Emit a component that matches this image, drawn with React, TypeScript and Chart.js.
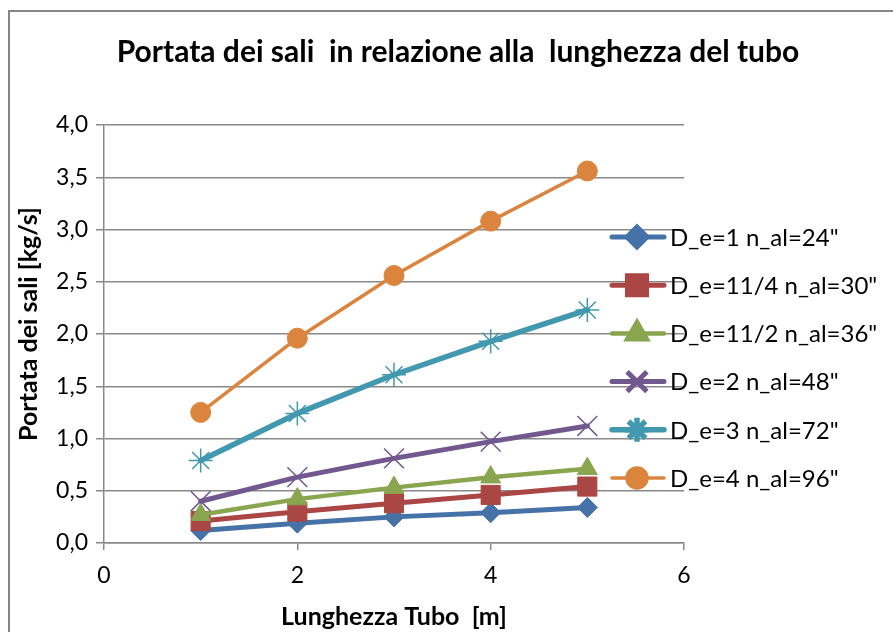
import React, { useEffect, useRef } from 'react';
import { Chart, registerables } from 'chart.js';
import { drawPoint } from 'chart.js/helpers';

Chart.register(...registerables);

// ---- data ----
const tubeLengths = [1, 2, 3, 4, 5];
const seriesNames = [
  'D_e=1 n_al=24"',
  'D_e=11/4 n_al=30"',
  'D_e=11/2 n_al=36"',
  'D_e=2 n_al=48"',
  'D_e=3 n_al=72"',
  'D_e=4 n_al=96"',
];
const de1 = [0.12, 0.19, 0.25, 0.29, 0.34];
const de114 = [0.21, 0.30, 0.38, 0.46, 0.54];
const de112 = [0.27, 0.42, 0.53, 0.63, 0.71];
const de2 = [0.40, 0.63, 0.81, 0.97, 1.12];
const de3 = [0.79, 1.24, 1.61, 1.93, 2.23];
const de4 = [1.25, 1.96, 2.56, 3.08, 3.56];
const seriesValues = [de1, de114, de112, de2, de3, de4];

const chartTitle = 'Portata dei sali  in relazione alla  lunghezza del tubo';
const xTitle = 'Lunghezza Tubo  [m]';
const yTitle = 'Portata dei sali [kg/s]';

// ---- styles ----
const colors = ['#4572A7', '#AA4643', '#89A54E', '#71588F', '#4198AF', '#DB843D'];
const pointStyles = ['rectRot', 'rect', 'triangle', 'crossRot', 'star', 'circle'];
const pointRadii = [10, 13.5, 11.5, 14, 12, 10];
const pointBorders = [1, 1, 1, 1.5, 1.5, 1];
const lineWidths = [5, 5, 4.5, 5, 5.5, 3.5];

const FONT = 'Lato, "Liberation Sans", sans-serif';
const W = 893;
const H = 632;
const GRID = '#898989';

const decorPlugin = {
  id: 'decor',
  beforeDraw(chart: any) {
    const ctx = chart.ctx;
    ctx.save();
    ctx.fillStyle = '#ffffff';
    ctx.fillRect(0, 0, W, H);
    ctx.strokeStyle = '#868686';
    ctx.lineWidth = 2;
    ctx.strokeRect(9, 11, W + 20, H + 20);
    ctx.restore();
  },
  afterDraw(chart: any) {
    const ctx = chart.ctx;
    ctx.save();
    // title
    ctx.fillStyle = '#000';
    ctx.font = `bold 30px ${FONT}`;
    ctx.textAlign = 'center';
    ctx.textBaseline = 'middle';
    ctx.fillText(chartTitle, 458, 52);
    // y axis title
    ctx.save();
    ctx.translate(29, 324);
    ctx.rotate(-Math.PI / 2);
    ctx.font = `bold 25px ${FONT}`;
    ctx.fillText(yTitle, 0, 0);
    ctx.restore();
    // legend
    ctx.font = `24px ${FONT}`;
    ctx.textAlign = 'left';
    chart.data.datasets.forEach((ds: any, i: number) => {
      const y = 237 + i * 48.2;
      ctx.strokeStyle = ds.borderColor;
      ctx.lineWidth = ds.borderWidth;
      ctx.lineCap = 'round';
      ctx.beginPath();
      ctx.moveTo(612, y);
      ctx.lineTo(664, y);
      ctx.stroke();
      ctx.fillStyle = ds.pointBackgroundColor;
      ctx.strokeStyle = ds.pointBorderColor;
      ctx.lineCap = 'butt';
      drawPoint(ctx, {
        pointStyle: ds.pointStyle,
        radius: ds.pointRadius,
        borderWidth: ds.pointBorderWidth,
        rotation: 0,
      } as any, 637, y);
      ctx.fillStyle = '#000';
      ctx.fillText(ds.label, 670, y + 1);
    });
    ctx.restore();
  },
};

export default function App() {
  const ref = useRef<HTMLCanvasElement>(null);
  useEffect(() => {
    if (!ref.current) return;
    const datasets = seriesValues.map((vals, i) => ({
      label: seriesNames[i],
      data: tubeLengths.map((x, j) => ({ x, y: vals[j] })),
      borderColor: colors[i],
      backgroundColor: colors[i],
      borderWidth: lineWidths[i],
      borderCapStyle: 'round',
      borderJoinStyle: 'round',
      pointStyle: pointStyles[i],
      pointRadius: pointRadii[i],
      pointBackgroundColor: colors[i],
      pointBorderColor: colors[i],
      pointBorderWidth: pointBorders[i],
      tension: 0,
      order: 10 - i,
    }));
    const chart = new Chart(ref.current, {
      type: 'line',
      data: { datasets } as any,
      options: {
        responsive: false,
        animation: false,
        devicePixelRatio: 1,
        layout: { padding: { left: 10, top: 125, right: 209, bottom: 0 } },
        plugins: {
          legend: { display: false },
          title: { display: false },
          tooltip: { enabled: false },
        },
        scales: {
          x: {
            type: 'linear',
            min: 0,
            max: 6,
            afterFit: (s: any) => { s.height = 89; },
            ticks: {
              stepSize: 2,
              color: '#000',
              font: { family: FONT, size: 23 },
              padding: 12,
            },
            grid: { drawOnChartArea: false, drawTicks: true, tickLength: 7, color: GRID, lineWidth: 1.5 },
            border: { display: true, color: GRID, width: 1.5 },
            title: {
              display: true,
              text: xTitle,
              color: '#000',
              font: { family: FONT, size: 25, weight: 'bold' },
              padding: { top: 0, bottom: 0 },
            },
          },
          y: {
            type: 'linear',
            min: 0,
            max: 4,
            afterFit: (s: any) => { s.width = 94; },
            ticks: {
              stepSize: 0.5,
              color: '#000',
              font: { family: FONT, size: 23 },
              padding: 8,
              callback: (v: any) => Number(v).toFixed(1).replace('.', ','),
            },
            grid: { color: GRID, lineWidth: 1.5, tickLength: 8 },
            border: { display: true, color: GRID, width: 1.5 },
            title: { display: false },
          },
        },
      },
      plugins: [decorPlugin],
    } as any);
    return () => chart.destroy();
  }, []);
  return (
    <div style={{ position: 'fixed', left: 0, top: 0, width: W, height: H, background: '#fff' }}>
      <canvas ref={ref} width={W} height={H} style={{ width: W, height: H, display: 'block' }} />
    </div>
  );
}
